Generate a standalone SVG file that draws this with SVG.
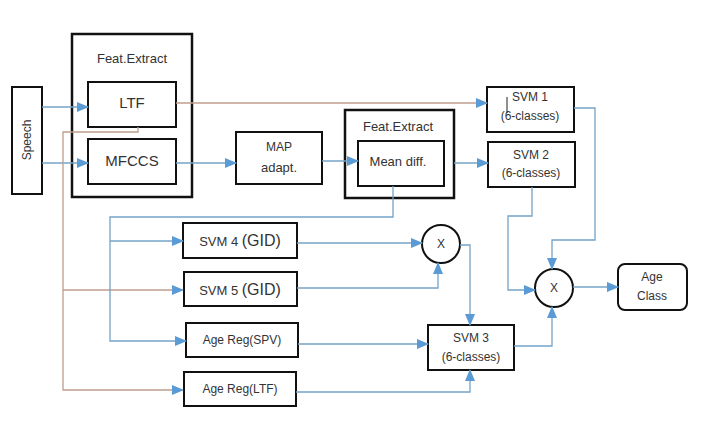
<svg xmlns="http://www.w3.org/2000/svg" width="702" height="425" viewBox="0 0 702 425">
<style>
.box{fill:#fff;stroke:#111;stroke-width:2}
.outer{fill:#fff;stroke:#111;stroke-width:2.5}
.t{font-family:"Liberation Sans",Arial,sans-serif;font-size:12px;fill:#333;text-anchor:middle}
.big{font-size:15px}
.m{font-size:13px}
.blue{fill:none;stroke:#74a3c7;stroke-width:1.3}
.brown{fill:none;stroke:#bf9d8e;stroke-width:1.3}
</style>
<defs>
<marker id="ah" markerWidth="12" markerHeight="10" refX="11" refY="5" orient="auto" markerUnits="userSpaceOnUse">
<path d="M0,0 L12,5 L0,10 Z" fill="#5b9bd5"/>
</marker>
</defs>
<rect width="702" height="425" fill="#fff"/>

<g id="speech"><rect class="box" x="12" y="87" width="30" height="107"/>
<text class="t" transform="translate(31,140) rotate(-90)" font-size="12">Speech</text></g>

<g id="featextract1"><rect class="outer" x="72" y="34" width="120" height="163"/>
<text class="t m" x="132" y="63">Feat.Extract</text></g>
<g id="ltf"><rect class="box" x="88" y="82" width="88" height="45"/>
<text class="t big" x="132" y="108">LTF</text></g>
<g id="mfccs"><rect class="box" x="88" y="139" width="88" height="45"/>
<text class="t big" x="132" y="166">MFCCS</text></g>

<g id="map"><rect class="box" x="236" y="132" width="86" height="52"/>
<text class="t" x="279" y="151">MAP</text><text class="t m" x="279" y="172">adapt.</text></g>

<g id="featextract2"><rect class="outer" x="345" y="110" width="109" height="88"/>
<text class="t m" x="398" y="131">Feat.Extract</text></g>
<g id="meandiff"><rect class="box" x="358" y="141" width="86" height="45"/>
<text class="t m" x="398" y="166">Mean diff.</text></g>

<g id="svm1"><rect class="box" x="487" y="87" width="87" height="45"/>
<text class="t" x="530" y="101">SVM 1</text><text class="t" x="530" y="120">(6-classes)</text>
<line x1="507" y1="97" x2="507" y2="113" stroke="#222" stroke-width="1"/></g>
<g id="svm2"><rect class="box" x="488" y="142" width="87" height="45"/>
<text class="t" x="531" y="159">SVM 2</text><text class="t" x="531" y="177">(6-classes)</text></g>

<g id="svm4"><rect class="box" x="183" y="223" width="114" height="35"/>
<text class="t" x="240" y="246"><tspan font-size="13">SVM 4 </tspan><tspan font-size="16">(GID)</tspan></text></g>
<g id="svm5"><rect class="box" x="184" y="272" width="113" height="34"/>
<text class="t" x="240" y="295"><tspan font-size="13">SVM 5 </tspan><tspan font-size="16">(GID)</tspan></text></g>
<g id="agespv"><rect class="box" x="186" y="323" width="112" height="34"/>
<text class="t" x="242" y="344">Age Reg(SPV)</text></g>
<g id="ageltf"><rect class="box" x="184" y="372" width="112" height="34"/>
<text class="t" x="240" y="393">Age Reg(LTF)</text></g>

<g id="mult1"><circle cx="441" cy="244" r="19" fill="#fff" stroke="#111" stroke-width="2"/>
<text class="t" x="441" y="248">X</text></g>
<g id="svm3"><rect class="box" x="428" y="325" width="86" height="45"/>
<text class="t" x="471" y="342">SVM 3</text><text class="t" x="471" y="361">(6-classes)</text></g>
<g id="mult2"><circle cx="554" cy="288" r="19" fill="#fff" stroke="#111" stroke-width="2"/>
<text class="t" x="554" y="292">X</text></g>
<g id="ageclass"><rect class="box" x="618" y="264" width="69" height="46" rx="7"/>
<text class="t" x="652" y="281">Age</text><text class="t" x="652" y="300">Class</text></g>

<g id="connectors">
<path class="blue" d="M42,107 H88" marker-end="url(#ah)"/>
<path class="blue" d="M42,163 H88" marker-end="url(#ah)"/>
<path class="brown" d="M176,103 H487" marker-end="url(#ah)"/>
<path class="brown" d="M138,127 V132 H63 V390 H183" marker-end="url(#ah)"/>
<path class="brown" d="M63,290 H183" marker-end="url(#ah)"/>
<path class="blue" d="M176,163 H236" marker-end="url(#ah)"/>
<path class="blue" d="M322,161 H358" marker-end="url(#ah)"/>
<path class="blue" d="M454,163 H488" marker-end="url(#ah)"/>
<path class="blue" d="M393,186 V217 H110 V341 H186" marker-end="url(#ah)"/>
<path class="blue" d="M110,241 H183" marker-end="url(#ah)"/>
<path class="blue" d="M297,243 H422" marker-end="url(#ah)"/>
<path class="blue" d="M297,288 H438 V263" marker-end="url(#ah)"/>
<path class="blue" d="M460,245 H470 V325" marker-end="url(#ah)"/>
<path class="blue" d="M298,344 H428" marker-end="url(#ah)"/>
<path class="blue" d="M296,392 H470 V370" marker-end="url(#ah)"/>
<path class="blue" d="M574,108 H595 V240 H552 V269" marker-end="url(#ah)"/>
<path class="blue" d="M532,187 V216 H508 V290 H535" marker-end="url(#ah)"/>
<path class="blue" d="M514,346 H552 V307" marker-end="url(#ah)"/>
<path class="blue" d="M573,287 H618" marker-end="url(#ah)"/>
</g>
</svg>
